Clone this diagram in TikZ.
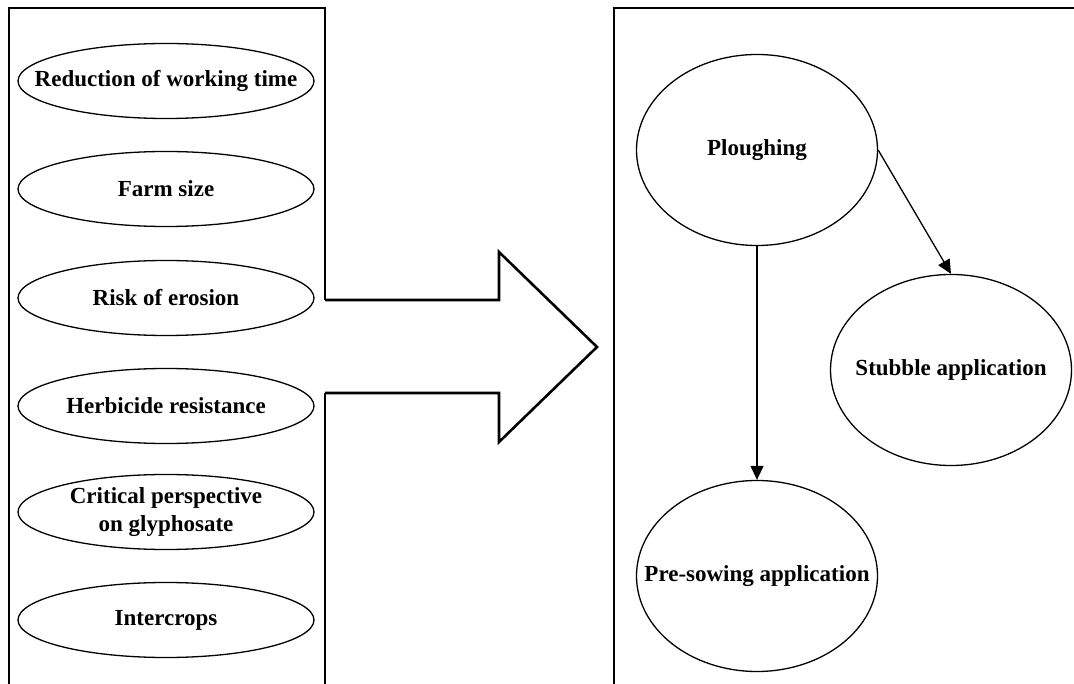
\documentclass[tikz,border=0pt]{standalone}
\usepackage{fontspec}
\setmainfont{Liberation Serif}
\usetikzlibrary{shapes.geometric,arrows.meta}
\tikzset{
  frame/.style={line width=2.6pt, line join=miter},
  factor/.style={ellipse, draw, line width=1.3pt, minimum width=296pt, minimum height=75pt, inner xsep=-80pt, inner ysep=-10pt,
    font=\fontsize{23}{28}\selectfont\bfseries, align=center},
  stage/.style={ellipse, draw, line width=1.3pt, minimum width=241pt, minimum height=191pt, inner xsep=-80pt, inner ysep=0pt,
    font=\fontsize{23}{27}\selectfont\bfseries, align=center},
  link/.style={line width=1.3pt, -{Triangle[length=14pt,width=13pt]}}
}
\begin{document}
\begin{tikzpicture}[x=1pt,y=-1pt]
\useasboundingbox (0,0) rectangle (1074,684);
\clip (0,0) rectangle (1074,684);
% left frame with opening for the big arrow
\draw[frame] (325,300) -- (325,8) -- (9,8) -- (9,690);
\draw[frame] (325,690) -- (325,393);
% big arrow
\draw[frame] (325,300) -- (499,300) -- (499,252) -- (597,347) -- (499,442) -- (499,393) -- (325,393);
% right frame
\draw[frame] (1080,8) -- (614,8) -- (614,690);
% factors
\node[factor] (f1) at (166,81) {Reduction of working time};
\node[factor] (f2) at (166,189) {Farm size};
\node[factor] (f3) at (166,298) {Risk of erosion};
\node[factor] (f4) at (166,406) {Herbicide resistance};
\node[factor] (f5) at (166,512) {Critical perspective\\on glyphosate};
\node[factor] (f6) at (166,620) {Intercrops};
% stages
\node[stage] (plough) at (757,150) {Ploughing};
\node[stage] (stubble) at (951,370) {Stubble application};
\node[stage] (presow) at (757,576) {Pre-sowing application};
\draw[link] (plough) -- (presow);
\draw[link] (plough.east) -- (stubble.north);
\end{tikzpicture}
\end{document}
